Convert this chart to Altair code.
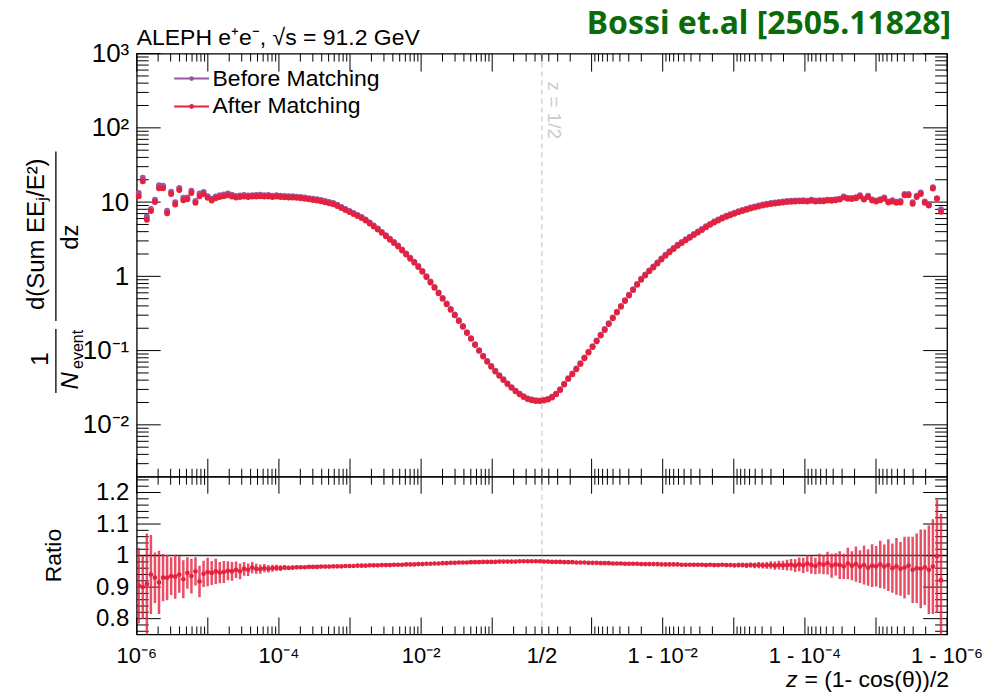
import numpy as np
import pandas as pd
import altair as alt

FONT = "Liberation Sans"
RED = "#e4223e"
PURPLE = "#9a55a3"
W, H_TOP, H_RAT = 812, 424, 158
PAD_L, PAD_T, PAD_R, PAD_B = 136, 52, 43, 61

# ---------------- values ----------------
# EEC (after matching), 100 log bins from 1e-6 to 1/2
eec_left = [
    12.0, 19.1, 5.8, 7.6, 10.0, 15.4, 15.4, 7.1, 12.9, 9.3,
    14.5, 10.6, 10.9, 13.3, 9.8, 12.0, 12.9, 11.4, 10.5, 11.3,
    11.7, 12.0, 12.4, 11.9, 11.5, 11.7, 11.9, 11.7, 11.9, 11.9,
    12.0, 11.9, 11.9, 11.7, 11.9, 11.7, 11.6, 11.5, 11.5, 11.4,
    11.3, 11.1, 10.9, 10.7, 10.5, 10.3, 9.97, 9.66, 9.37, 8.87,
    8.33, 7.83, 7.36, 6.90, 6.49, 6.10, 5.66, 5.14, 4.69, 4.26,
    3.85, 3.47, 3.12, 2.81, 2.53, 2.23, 1.97, 1.73, 1.53, 1.34,
    1.15, 0.979, 0.828, 0.701, 0.591, 0.499, 0.421, 0.355, 0.299, 0.251,
    0.209, 0.173, 0.144, 0.119, 0.0993, 0.0834, 0.0708, 0.0607, 0.0524, 0.0457,
    0.0402, 0.0355, 0.0316, 0.0283, 0.0258, 0.0238, 0.0223, 0.0215, 0.0210, 0.0209,
]
# EEC (after matching), bins from 1/2 towards 1 - 1e-6
eec_right = [
    0.0212, 0.0219, 0.0234, 0.0258, 0.0295, 0.0350, 0.0416, 0.0481, 0.0561, 0.0659,
    0.0788, 0.0940, 0.112, 0.134, 0.160, 0.190, 0.228, 0.272, 0.326, 0.390,
    0.465, 0.552, 0.655, 0.771, 0.900, 1.03, 1.17, 1.32, 1.49, 1.69,
    1.90, 2.11, 2.34, 2.58, 2.82, 3.06, 3.32, 3.60, 3.90, 4.22,
    4.57, 4.94, 5.31, 5.66, 6.01, 6.33, 6.65, 6.97, 7.28, 7.57,
    7.88, 8.18, 8.46, 8.73, 8.97, 9.20, 9.40, 9.58, 9.72, 9.88,
    10.0, 10.1, 10.2, 10.25, 10.3, 10.2, 10.4, 10.15, 10.3, 10.25,
    10.5, 10.4, 10.6, 10.8, 11.5, 11.1, 11.0, 11.3, 11.9, 10.8,
    11.7, 10.5, 10.15, 10.6, 11.1, 9.85, 10.15, 9.79, 9.91, 12.4,
    12.4, 9.49, 11.7, 12.9, 9.79, 9.03, 15.3, 11.2, 7.41,
]
ratio_left = [
    0.905, 0.900, 0.910, 0.940, 0.930, 0.915, 0.930, 0.930, 0.935, 0.933,
    0.940, 0.925, 0.945, 0.935, 0.950, 0.918, 0.942, 0.948, 0.945, 0.950,
    0.946, 0.948, 0.952, 0.950, 0.955, 0.950, 0.958, 0.955, 0.962, 0.958,
    0.957, 0.960, 0.958, 0.960, 0.961, 0.960, 0.962, 0.961, 0.962, 0.963,
    0.963, 0.963, 0.964, 0.964, 0.964, 0.965, 0.965, 0.965, 0.966, 0.966,
    0.966, 0.967, 0.967, 0.967, 0.968, 0.968, 0.968, 0.969, 0.969, 0.969,
    0.970, 0.970, 0.970, 0.971, 0.971, 0.971, 0.972, 0.972, 0.972, 0.973,
    0.973, 0.974, 0.974, 0.975, 0.975, 0.976, 0.976, 0.977, 0.977, 0.978,
    0.978, 0.978, 0.979, 0.979, 0.979, 0.980, 0.980, 0.980, 0.980, 0.981,
    0.981, 0.981, 0.981, 0.981, 0.982, 0.982, 0.982, 0.982, 0.982, 0.982,
]
ratio_right = [
    0.981, 0.981, 0.980, 0.980, 0.980, 0.979, 0.979, 0.979, 0.978, 0.978,
    0.978, 0.977, 0.977, 0.977, 0.976, 0.976, 0.976, 0.975, 0.975, 0.975,
    0.974, 0.974, 0.974, 0.974, 0.973, 0.973, 0.973, 0.973, 0.973, 0.972,
    0.972, 0.972, 0.972, 0.972, 0.971, 0.971, 0.971, 0.971, 0.971, 0.971,
    0.970, 0.971, 0.970, 0.970, 0.971, 0.970, 0.970, 0.969, 0.970, 0.970,
    0.969, 0.970, 0.969, 0.970, 0.969, 0.969, 0.970, 0.968, 0.970, 0.969,
    0.970, 0.971, 0.968, 0.972, 0.969, 0.975, 0.970, 0.967, 0.974, 0.971,
    0.976, 0.968, 0.972, 0.970, 0.966, 0.975, 0.968, 0.973, 0.965, 0.970,
    0.962, 0.968, 0.966, 0.972, 0.965, 0.970, 0.960, 0.966, 0.958, 0.962,
    0.968, 0.955, 0.960, 0.958, 0.963, 0.955, 0.965, 0.998, 0.922,
]
ratio_err_left = [
    0.12, 0.10, 0.16, 0.125, 0.08, 0.10, 0.075, 0.072, 0.06, 0.07,
    0.058, 0.06, 0.05, 0.055, 0.045, 0.05, 0.042, 0.045, 0.038, 0.04,
    0.034, 0.035, 0.030, 0.030, 0.026, 0.025, 0.022, 0.020, 0.018, 0.016,
    0.015, 0.013, 0.012, 0.011, 0.010, 0.009, 0.008, 0.007, 0.006, 0.006,
    0.005, 0.005, 0.004, 0.004, 0.004, 0.003, 0.003, 0.003, 0.003, 0.003,
    0.003, 0.003, 0.003, 0.003, 0.003, 0.003, 0.003, 0.003, 0.003, 0.003,
    0.002, 0.002, 0.002, 0.002, 0.002, 0.002, 0.002, 0.002, 0.002, 0.002,
    0.002, 0.002, 0.002, 0.002, 0.002, 0.002, 0.002, 0.002, 0.002, 0.002,
    0.002, 0.002, 0.002, 0.002, 0.002, 0.002, 0.002, 0.002, 0.002, 0.002,
    0.002, 0.002, 0.002, 0.002, 0.002, 0.002, 0.002, 0.002, 0.002, 0.002,
]
ratio_err_right = [
    0.002, 0.002, 0.002, 0.002, 0.002, 0.002, 0.002, 0.002, 0.002, 0.002,
    0.002, 0.002, 0.002, 0.002, 0.002, 0.002, 0.002, 0.002, 0.002, 0.002,
    0.002, 0.002, 0.002, 0.002, 0.002, 0.002, 0.002, 0.002, 0.002, 0.002,
    0.002, 0.002, 0.002, 0.002, 0.002, 0.002, 0.002, 0.002, 0.002, 0.002,
    0.003, 0.004, 0.004, 0.005, 0.005, 0.005, 0.006, 0.006, 0.007, 0.007,
    0.008, 0.008, 0.009, 0.010, 0.010, 0.011, 0.012, 0.013, 0.014, 0.015,
    0.017, 0.018, 0.020, 0.022, 0.024, 0.026, 0.028, 0.026, 0.032, 0.030,
    0.036, 0.038, 0.035, 0.044, 0.040, 0.050, 0.046, 0.056, 0.052, 0.062,
    0.058, 0.068, 0.064, 0.075, 0.070, 0.082, 0.078, 0.090, 0.085, 0.098,
    0.092, 0.105, 0.110, 0.125, 0.120, 0.140, 0.150, 0.180, 0.210,
]

series_names = ["Before Matching", "After Matching"]
series_colors = [PURPLE, RED]

y_major = [0.01, 0.1, 1, 10, 100, 1000]
y_major_labels = ["10⁻²", "10⁻¹", "1", "10", "10²", "10³"]
ratio_major = [0.8, 0.9, 1.0, 1.1, 1.2]
ratio_minor = [0.76, 0.78, 0.82, 0.84, 0.86, 0.88, 0.92, 0.94, 0.96, 0.98,
               1.02, 1.04, 1.06, 1.08, 1.12, 1.14, 1.16, 1.18, 1.22, 1.24]
x_label_low = [1e-6, 1e-4, 1e-2, 0.5]          # z
x_label_high = [1e-2, 1e-4, 1e-6]              # 1 - z
x_label_text = ["10⁻⁶", "10⁻⁴", "10⁻²", "1/2", "1 - 10⁻²", "1 - 10⁻⁴", "1 - 10⁻⁶"]
decades_low = [1e-6, 1e-5, 1e-4, 1e-3, 1e-2, 1e-1]
decades_high = [1e-1, 1e-2, 1e-3, 1e-4, 1e-5, 1e-6]
minor_mult = [2, 3, 4, 5, 6, 7, 8, 9]


# ---------------- axis transform (log z | mirrored log (1-z)) ----------------
def pos_low(z):
    return np.log10(z) + 6.0


def pos_high(omz):
    return 6.0 + 2.0 * np.log10(0.5) - np.log10(omz)


POS_MAX = float(pos_high(1e-6))
HALF_POS = float(pos_low(0.5))

left_edges = np.logspace(-6.0, np.log10(0.5), 101)
right_edges = np.logspace(np.log10(0.5), -6.0, 101)
pos_bins = np.concatenate([
    pos_low(np.sqrt(left_edges[:-1] * left_edges[1:])),
    pos_high(np.sqrt(right_edges[:-1] * right_edges[1:]))[: len(eec_right)],
])
after = np.array(eec_left + eec_right)
ratio = np.array(ratio_left + ratio_right)
rerr = np.array(ratio_err_left + ratio_err_right)
before = after / ratio

top_df = pd.DataFrame({
    "pos": np.concatenate([pos_bins, pos_bins]),
    "val": np.concatenate([before, after]),
    "series": [series_names[0]] * len(pos_bins) + [series_names[1]] * len(pos_bins),
    "idx": [0] * len(pos_bins) + [1] * len(pos_bins),
})
rat_df = pd.DataFrame({"pos": pos_bins, "r": ratio, "lo": ratio - rerr, "hi": ratio + rerr})

x_major = [pos_low(z) for z in decades_low] + [pos_high(o) for o in decades_high]
x_minor = ([pos_low(k * d) for d in decades_low[:-1] for k in minor_mult]
           + [pos_low(k * 0.1) for k in (2, 3, 4, 5)]
           + [pos_high(k * 0.1) for k in (2, 3, 4)]
           + [pos_high(k * d) for d in decades_high[1:] for k in minor_mult])
xmaj_df = pd.DataFrame({"pos": x_major})
xmin_df = pd.DataFrame({"pos": x_minor})

y_minor = [k * 10.0 ** e for e in range(-3, 3) for k in minor_mult]
y_minor = [v for v in y_minor if 0.0021 < v < 999]
ymaj_df = pd.DataFrame({"v": y_major})
ymin_df = pd.DataFrame({"v": y_minor})
rmaj_df = pd.DataFrame({"v": ratio_major})
rmin_df = pd.DataFrame({"v": ratio_minor})

xlab_df = pd.DataFrame({
    "pos": [pos_low(z) for z in x_label_low] + [pos_high(o) for o in x_label_high],
    "label": x_label_text,
})
half_df = pd.DataFrame({"pos": [HALF_POS], "t": ["z = 1/2"]})

XS = alt.Scale(domain=[0, POS_MAX], nice=False, zero=False)
YS = alt.Scale(type="log", domain=[0.002, 1000], nice=False)
RS = alt.Scale(domain=[0.75, 1.25], nice=False, zero=False)
CS = alt.Scale(domain=series_names, range=series_colors)

# label expression for the log axis
conds = []
for i in range(len(y_major) - 1):
    thr = float(np.sqrt(y_major[i] * y_major[i + 1]))
    conds.append(f"datum.value < {thr} ? '{y_major_labels[i]}' : ")
y_label_expr = "".join(conds) + f"'{y_major_labels[-1]}'"

YAX_TOP = alt.Axis(values=y_major, labelExpr=y_label_expr, ticks=False, domain=False, grid=False,
                   labelFont=FONT, labelFontSize=26, labelColor="black", labelPadding=8, title=None)
YAX_RAT = alt.Axis(values=ratio_major, format=".1~f", ticks=False, domain=False, grid=False,
                   labelFont=FONT, labelFontSize=24, labelColor="black", labelPadding=8, title=None)


def x_ticks(h, major_len, minor_len):
    out = []
    for df, ln in ((xmaj_df, major_len), (xmin_df, minor_len)):
        base = alt.Chart(df).mark_rule(color="black", strokeWidth=1)
        out.append(base.encode(x=alt.X("pos:Q", scale=XS, axis=None),
                               y=alt.value(0), y2=alt.value(ln)))
        out.append(base.encode(x=alt.X("pos:Q", scale=XS, axis=None),
                               y=alt.value(h), y2=alt.value(h - ln)))
    return out


def y_ticks(maj_df, min_df, scale, axis, major_len, minor_len):
    out = []
    for df, ln in ((maj_df, major_len), (min_df, minor_len)):
        base = alt.Chart(df).mark_rule(color="black", strokeWidth=1)
        out.append(base.encode(y=alt.Y("v:Q", scale=scale, axis=axis),
                               x=alt.value(0), x2=alt.value(ln)))
        out.append(base.encode(y=alt.Y("v:Q", scale=scale, axis=axis),
                               x=alt.value(W), x2=alt.value(W - ln)))
    return out


def text_mark(t, x, y, **kw):
    return alt.Chart(pd.DataFrame({"t": [t]})).mark_text(font=kw.pop("font", FONT), **kw).encode(
        text="t:N", x=alt.value(x), y=alt.value(y))


def vbar(x, y0, y1):
    return alt.Chart(pd.DataFrame({"a": [0]})).mark_rule(color="black", strokeWidth=1.3).encode(
        x=alt.value(x), y=alt.value(y0), y2=alt.value(y1))


def bound_line(y):
    # invisible rule fixing the outer bounds of the figure
    return alt.Chart(pd.DataFrame({"a": [0]})).mark_rule(strokeOpacity=0, strokeWidth=0).encode(
        x=alt.value(-PAD_L), x2=alt.value(W + PAD_R), y=alt.value(y))


legend = alt.Legend(
    orient="none", legendX=43.5, legendY=13.5, title=None,
    labelFont=FONT, labelFontSize=23, labelColor="black", labelLimit=0,
    symbolType="M-2.5,0H2.5M-0.2,0A0.2,0.2 0 1,0 0.2,0A0.2,0.2 0 1,0 -0.2,0",
    symbolSize=196, symbolStrokeWidth=2, labelOffset=9.5, rowPadding=4, padding=0,
)

# ---------------- top panel ----------------
half_line_top = alt.Chart(half_df).mark_rule(color="#cdcdcd", strokeDash=[5, 4], strokeWidth=1.3).encode(
    x=alt.X("pos:Q", scale=XS, axis=None), y=alt.value(0), y2=alt.value(H_TOP))
half_text = alt.Chart(half_df).mark_text(
    font=FONT, fontSize=19, color="#cbcbcb", angle=90, align="left", baseline="alphabetic", dy=-6
).encode(x=alt.X("pos:Q", scale=XS, axis=None), y=alt.value(28), text="t:N")

points = alt.Chart(top_df).mark_circle(size=16, opacity=1).encode(
    x=alt.X("pos:Q", scale=XS, axis=None),
    y=alt.Y("val:Q", scale=YS, axis=YAX_TOP),
    fill=alt.Fill("series:N", scale=CS, legend=legend),
    stroke=alt.Stroke("series:N", scale=CS, legend=legend),
    order=alt.Order("idx:Q"),
)

top_layers = (
    [bound_line(-PAD_T), half_line_top, half_text]
    + x_ticks(H_TOP, 18, 8)
    + y_ticks(ymaj_df, ymin_df, YS, YAX_TOP, 24, 12)
    + [points,
       text_mark("ALEPH e⁺e⁻, √s = 91.2 GeV", 0, -9, fontSize=23, align="left", baseline="alphabetic"),
       text_mark("Bossi et.al [2505.11828]", 816, -20, font="Noto Sans", fontSize=32, align="right",
                 baseline="alphabetic", fontWeight="bold", color="#0b6b0b"),
       # y-axis title: 1/N_event * d(Sum EE_j/E^2)/dz
       text_mark("d(Sum EEⱼ/E²)", -93, 181, fontSize=24, angle=270, align="center", baseline="alphabetic"),
       vbar(-81, 98, 268),
       text_mark("dz", -59, 184, fontSize=24, angle=270, align="center", baseline="alphabetic"),
       text_mark("1", -89, 306, fontSize=24, angle=270, align="center", baseline="alphabetic"),
       vbar(-81, 276, 340),
       text_mark("N", -59, 328, fontSize=24, angle=270, align="center", baseline="alphabetic",
                 fontStyle="italic"),
       text_mark("event", -54, 316, fontSize=16, angle=270, align="left", baseline="alphabetic"),
       ]
)
top = alt.layer(*top_layers).properties(width=W, height=H_TOP)

# ---------------- ratio panel ----------------
half_line_rat = alt.Chart(half_df).mark_rule(color="#cdcdcd", strokeDash=[5, 4], strokeWidth=1.3).encode(
    x=alt.X("pos:Q", scale=XS, axis=None), y=alt.value(0), y2=alt.value(H_RAT))
one_line = alt.Chart(pd.DataFrame({"v": [1.0]})).mark_rule(color="#333333", strokeWidth=1.5).encode(
    y=alt.Y("v:Q", scale=RS, axis=YAX_RAT), x=alt.value(0), x2=alt.value(W))
err_bars = alt.Chart(rat_df).mark_rule(color=RED, strokeWidth=2.5, opacity=0.8, clip=True).encode(
    x=alt.X("pos:Q", scale=XS, axis=None),
    y=alt.Y("lo:Q", scale=RS, axis=YAX_RAT),
    y2="hi:Q")
rat_pts = alt.Chart(rat_df).mark_circle(size=22, opacity=1, color=RED, clip=True).encode(
    x=alt.X("pos:Q", scale=XS, axis=None),
    y=alt.Y("r:Q", scale=RS, axis=YAX_RAT))
x_labels = alt.Chart(xlab_df).mark_text(font=FONT, fontSize=22, baseline="top", align="center").encode(
    x=alt.X("pos:Q", scale=XS, axis=None), y=alt.value(H_RAT + 12), text="label:N")

rat_layers = (
    [bound_line(H_RAT + PAD_B), half_line_rat, one_line]
    + x_ticks(H_RAT, 17, 8)
    + y_ticks(rmaj_df, rmin_df, RS, YAX_RAT, 24, 12)
    + [err_bars, rat_pts, x_labels,
       text_mark("Ratio", -76, 79, fontSize=23, angle=270, align="center", baseline="alphabetic"),
       text_mark("= (1- cos(θ))/2", 814, 211, fontSize=23, align="right", baseline="alphabetic"),
       text_mark("z", 662, 211, fontSize=23, align="right", baseline="alphabetic", fontStyle="italic"),
       ]
)
bottom = alt.layer(*rat_layers).properties(width=W, height=H_RAT)

chart = alt.vconcat(top, bottom, spacing=0, bounds="flush").properties(
    autosize=alt.AutoSizeParams(type="pad"),
    padding=0,
    background="white",
).configure_view(stroke="black", strokeWidth=1.3).configure_concat(spacing=0)

chart.save("out.html", embed_options={"renderer": "svg", "actions": False})
